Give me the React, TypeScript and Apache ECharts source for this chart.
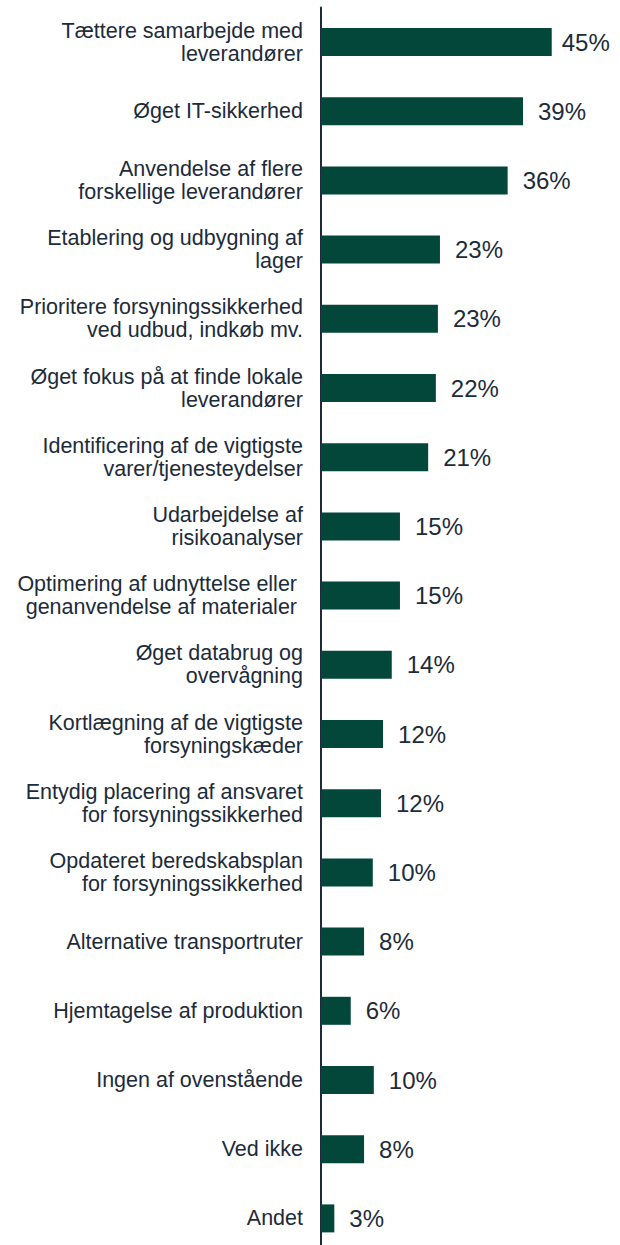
import React, { useEffect, useRef } from "react";
import * as echarts from "echarts";

const categories = [
  "Tættere samarbejde med\nleverandører",
  "Øget IT-sikkerhed",
  "Anvendelse af flere\nforskellige leverandører",
  "Etablering og udbygning af\nlager",
  "Prioritere forsyningssikkerhed\nved udbud, indkøb mv.",
  "Øget fokus på at finde lokale\nleverandører",
  "Identificering af de vigtigste\nvarer/tjenesteydelser",
  "Udarbejdelse af\nrisikoanalyser",
  "Optimering af udnyttelse eller \ngenanvendelse af materialer ",
  "Øget databrug og\novervågning",
  "Kortlægning af de vigtigste\nforsyningskæder",
  "Entydig placering af ansvaret\nfor forsyningssikkerhed",
  "Opdateret beredskabsplan\nfor forsyningssikkerhed",
  "Alternative transportruter",
  "Hjemtagelse af produktion",
  "Ingen af ovenstående",
  "Ved ikke",
  "Andet",
];

const values = [45, 39.4, 36.4, 23.2, 22.8, 22.4, 20.9, 15.4, 15.4, 13.8, 12.1, 11.7, 10.1, 8.4, 5.8, 10.3, 8.4, 2.6];

const BAR = "#03473a";
const TEXT = "#1c2b3a";
const FONT = "'Liberation Sans', Arial, sans-serif";

export default function App() {
  const ref = useRef<HTMLDivElement>(null);
  useEffect(() => {
    if (!ref.current) return;
    const chart = echarts.init(ref.current, undefined, { renderer: "svg" });
    const data = values.map((v, i) =>
      i === 0 ? { value: v, label: { distance: 10 } } : { value: v }
    );
    chart.setOption({
      animation: false,
      grid: { left: 321, right: 17, top: 7.4, height: 1245.6, containLabel: false },
      xAxis: {
        type: "value",
        min: 0,
        max: 55,
        show: false,
      },
      yAxis: {
        type: "category",
        data: categories,
        inverse: true,
        axisLine: { show: true, lineStyle: { color: "#1e2a3a", width: 2 } },
        axisTick: { show: false },
        axisLabel: {
          margin: 18,
          color: TEXT,
          fontFamily: FONT,
          fontSize: 21.5,
          lineHeight: 23,
          align: "right",
        },
      },
      series: [
        {
          type: "bar",
          data,
          barWidth: 28,
          itemStyle: { color: BAR },
          label: {
            show: true,
            position: "right",
            distance: 15,
            color: TEXT,
            fontFamily: FONT,
            fontSize: 24,
            formatter: (p: any) => Math.round(p.value) + "%",
          },
        },
      ],
    });
    return () => chart.dispose();
  }, []);
  return (
    <div style={{ position: "absolute", left: 0, top: 0, width: 620, height: 1245, overflow: "hidden" }}>
      <div ref={ref} style={{ width: 620, height: 1262 }} />
    </div>
  );
}
